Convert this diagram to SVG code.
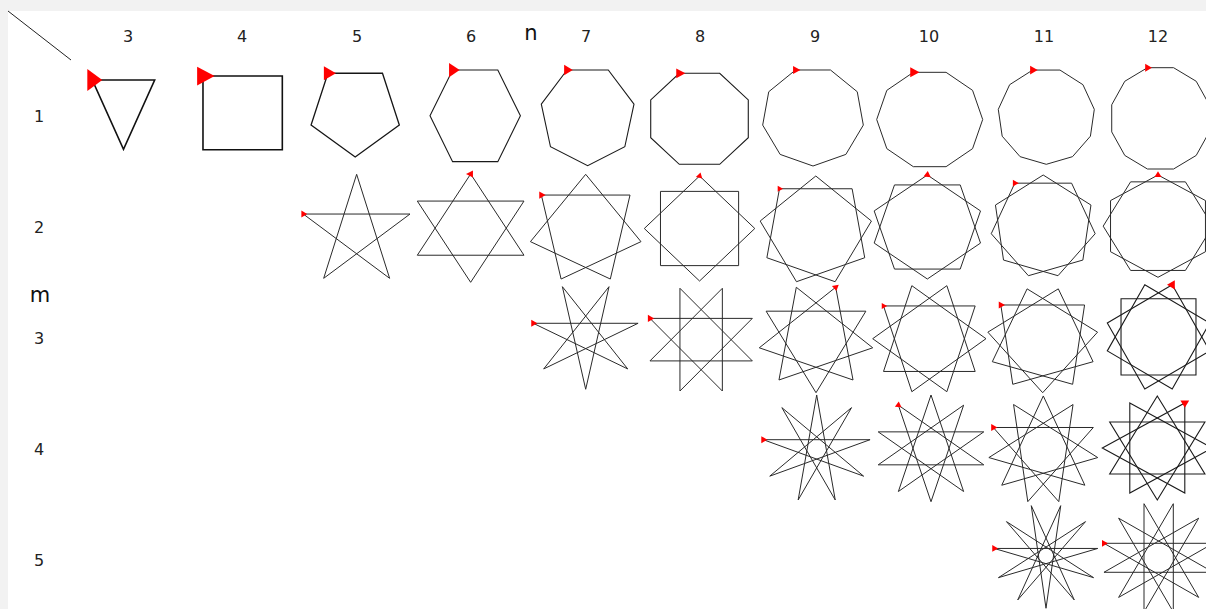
<svg xmlns="http://www.w3.org/2000/svg" xmlns:xlink="http://www.w3.org/1999/xlink" width="1206" height="609" viewBox="0 0 1206 609">
<style>
.ln{fill:none;stroke:#2a2a2a;stroke-width:1;vector-effect:non-scaling-stroke;stroke-linejoin:miter}
.b1{stroke:#111;stroke-width:1.6}
.b2{stroke:#151515;stroke-width:1.3}
.b3{stroke:#1a1a1a;stroke-width:1.1}
.lab{font-family:"DejaVu Sans",sans-serif;font-size:16px;fill:#222;text-anchor:middle}
.big{font-family:"DejaVu Sans",sans-serif;font-size:21px;fill:#111;text-anchor:middle}
</style>
<defs>
<polygon id="t" points="0.577,0 -0.289,-0.5 -0.289,0.5" fill="#ff0000"/>
</defs>
<rect x="0" y="0" width="1206" height="609" fill="#f2f2f2"/>
<rect x="8" y="11" width="1198" height="598" fill="#ffffff"/>
<g id="header">
<line x1="8" y1="11" x2="71" y2="60" stroke="#222" stroke-width="1"/>
<text class="lab" x="128" y="42">3</text>
<text class="lab" x="242" y="42">4</text>
<text class="lab" x="357" y="42">5</text>
<text class="lab" x="471" y="42">6</text>
<text class="lab" x="586" y="42">7</text>
<text class="lab" x="700" y="42">8</text>
<text class="lab" x="815" y="42">9</text>
<text class="lab" x="929" y="42">10</text>
<text class="lab" x="1044" y="42">11</text>
<text class="lab" x="1158" y="42">12</text>
<text class="big" x="531" y="40">n</text>
<text class="lab" x="39" y="122">1</text>
<text class="lab" x="39" y="233">2</text>
<text class="lab" x="39" y="344">3</text>
<text class="lab" x="39" y="455">4</text>
<text class="lab" x="39" y="566">5</text>
<text class="big" x="40" y="302">m</text>
</g>
<g id="connectors"></g>

<!-- row 1 -->
<g id="p3-1" transform="translate(123.5,103.1) scale(36,46.2)">
<polygon class="ln b1" points="-0.866,-0.5 0.866,-0.5 0,1"/>
<use xlink:href="#t" href="#t" transform="translate(-0.866,-0.5) scale(0.48)"/>
</g>
<g id="p4-1" transform="translate(242.65,112.85) scale(56.1,52.1)">
<polygon class="ln b1" points="-0.7071,-0.7071 0.7071,-0.7071 0.7071,0.7071 -0.7071,0.7071"/>
<use xlink:href="#t" href="#t" transform="translate(-0.7071,-0.7071) scale(0.36)"/>
</g>
<g id="p5-1" transform="translate(355.2,110.7) scale(46.4,46.3)">
<polygon class="ln b2" points="-0.5878,-0.809 0.5878,-0.809 0.9511,0.309 0,1 -0.9511,0.309"/>
<use xlink:href="#t" href="#t" transform="translate(-0.5878,-0.809) scale(0.3)"/>
</g>
<g id="p6-1" transform="translate(475.2,115.85) scale(45.2,52.9)">
<polygon class="ln b3" points="-0.5,-0.866 0.5,-0.866 1,0 0.5,0.866 -0.5,0.866 -1,0"/>
<use xlink:href="#t" href="#t" transform="translate(-0.5,-0.866) scale(0.27)"/>
</g>
<g id="p7-1" transform="translate(587.65,115.36) scale(47.54,50.34)">
<polygon class="ln b3" points="-0.4339,-0.901 0.4339,-0.901 0.9749,-0.2225 0.7818,0.6235 0,1 -0.7818,0.6235 -0.9749,-0.2225"/>
<use xlink:href="#t" href="#t" transform="translate(-0.4339,-0.901) scale(0.21)"/>
</g>
<g id="p8-1" transform="translate(699.5,118.8) scale(52.8,49.24)">
<polygon class="ln b3" points="-0.3827,-0.9239 0.3827,-0.9239 0.9239,-0.3827 0.9239,0.3827 0.3827,0.9239 -0.3827,0.9239 -0.9239,0.3827 -0.9239,-0.3827"/>
<use xlink:href="#t" href="#t" transform="translate(-0.3827,-0.9239) scale(0.2)"/>
</g>
<g id="p9-1" transform="translate(813,116.5) scale(51.1,49.5)">
<polygon class="ln" points="-0.342,-0.9397 0.342,-0.9397 0.866,-0.5 0.9848,0.1736 0.6428,0.766 0,1 -0.6428,0.766 -0.9848,0.1736 -0.866,-0.5"/>
<use xlink:href="#t" href="#t" transform="translate(-0.342,-0.9397) scale(0.165)"/>
</g>
<g id="p10-1" transform="translate(929.7,119.5) scale(53,49.6)">
<polygon class="ln" points="-0.309,-0.9511 0.309,-0.9511 0.809,-0.5878 1,0 0.809,0.5878 0.309,0.9511 -0.309,0.9511 -0.809,0.5878 -1,0 -0.809,-0.5878"/>
<use xlink:href="#t" href="#t" transform="translate(-0.309,-0.9511) scale(0.2)"/>
</g>
<g id="p11-1" transform="translate(1046.3,116.2) scale(48.5,48.1)">
<polygon class="ln" points="-0.2817,-0.9595 0.2817,-0.9595 0.7557,-0.6549 0.9898,-0.1423 0.9096,0.4154 0.5406,0.8413 0,1 -0.5406,0.8413 -0.9096,0.4154 -0.9898,-0.1423 -0.7557,-0.6549"/>
<use xlink:href="#t" href="#t" transform="translate(-0.2817,-0.9595) scale(0.18)"/>
</g>
<g id="p12-1" transform="translate(1160.5,118.35) scale(50.5,52.44)">
<polygon class="ln" points="-0.2588,-0.9659 0.2588,-0.9659 0.7071,-0.7071 0.9659,-0.2588 0.9659,0.2588 0.7071,0.7071 0.2588,0.9659 -0.2588,0.9659 -0.7071,0.7071 -0.9659,0.2588 -0.9659,-0.2588 -0.7071,-0.7071"/>
<use xlink:href="#t" href="#t" transform="translate(-0.2588,-0.9659) scale(0.155)"/>
</g>

<!-- row 2 -->
<g id="p5-2" transform="translate(356.65,231.8) scale(56.1,57.5)">
<polygon class="ln" points="-0.9511,-0.309 0.9511,-0.309 -0.5878,0.809 0,-1 0.5878,0.809"/>
<use xlink:href="#t" href="#t" transform="translate(-0.9511,-0.309) scale(0.12)"/>
</g>
<g id="p6-2" transform="translate(470.65,228.15) scale(61.6,54.15)">
<polygon class="ln" points="-0.866,-0.5 0.866,-0.5 0,1"/>
<polygon class="ln" points="0,-1 0.866,0.5 -0.866,0.5"/>
<use xlink:href="#t" href="#t" transform="translate(0,-1) rotate(60) scale(0.13)"/>
</g>
<g id="p7-2" transform="translate(585.7,229.4) scale(56.7,55.08)">
<polygon class="ln" points="-0.7818,-0.6235 0.7818,-0.6235 0.4339,0.901 -0.9749,0.2225 0,-1 0.9749,0.2225 -0.4339,0.901"/>
<use xlink:href="#t" href="#t" transform="translate(-0.7818,-0.6235) scale(0.13)"/>
</g>
<g id="p8-2" transform="translate(699.55,228.5) scale(55.25,52.5)">
<polygon class="ln" points="-0.7071,-0.7071 0.7071,-0.7071 0.7071,0.7071 -0.7071,0.7071"/>
<polygon class="ln" points="0,-1 1,0 0,1 -1,0"/>
<use xlink:href="#t" href="#t" transform="translate(0,-1) rotate(45) scale(0.12)"/>
</g>
<g id="p9-2" transform="translate(815.8,230.5) scale(56.5,54.5)">
<polygon class="ln" points="-0.6428,-0.766 0.6428,-0.766 0.866,0.5 -0.342,0.9397 -0.9848,-0.1736 0,-1 0.9848,-0.1736 0.342,0.9397 -0.866,0.5"/>
<use xlink:href="#t" href="#t" transform="translate(-0.6428,-0.766) scale(0.11)"/>
</g>
<g id="p10-2" transform="translate(927.35,227) scale(55.9,52)">
<polygon class="ln" points="-0.5878,-0.809 0.5878,-0.809 0.9511,0.309 0,1 -0.9511,0.309"/>
<polygon class="ln" points="0,-1 0.9511,-0.309 0.5878,0.809 -0.5878,0.809 -0.9511,-0.309"/>
<use xlink:href="#t" href="#t" transform="translate(0,-1) rotate(36) scale(0.13)"/>
</g>
<g id="p11-2" transform="translate(1043.2,226.4) scale(52.5,51.4)">
<polygon class="ln" points="-0.5406,-0.8413 0.5406,-0.8413 0.9898,0.1423 0.2817,0.9595 -0.7557,0.6549 -0.9096,-0.4154 0,-1 0.9096,-0.4154 0.7557,0.6549 -0.2817,0.9595 -0.9898,0.1423"/>
<use xlink:href="#t" href="#t" transform="translate(-0.5406,-0.8413) scale(0.13)"/>
</g>
<g id="p12-2" transform="translate(1158,226.15) scale(54.8,51.15)">
<polygon class="ln" points="-0.5,-0.866 0.5,-0.866 1,0 0.5,0.866 -0.5,0.866 -1,0"/>
<polygon class="ln" points="0,-1 0.866,-0.5 0.866,0.5 0,1 -0.866,0.5 -0.866,-0.5"/>
<use xlink:href="#t" href="#t" transform="translate(0,-1) rotate(30) scale(0.13)"/>
</g>

<!-- row 3 -->
<g id="p7-3" transform="translate(585.7,335.3) scale(53.75,53.97)">
<polygon class="ln" points="-0.9749,-0.2225 0.9749,-0.2225 -0.7818,0.6235 0.4339,-0.901 0,1 -0.4339,-0.901 0.7818,0.6235"/>
<use xlink:href="#t" href="#t" transform="translate(-0.9749,-0.2225) scale(0.13)"/>
</g>
<g id="p8-3" transform="translate(701.15,339.65) scale(55.4,55.58)">
<polygon class="ln" points="-0.9239,-0.3827 0.9239,-0.3827 -0.3827,0.9239 -0.3827,-0.9239 0.9239,0.3827 -0.9239,0.3827 0.3827,-0.9239 0.3827,0.9239"/>
<use xlink:href="#t" href="#t" transform="translate(-0.9239,-0.3827) scale(0.13)"/>
</g>
<g id="p9-3" transform="translate(816,338.35) scale(57.6,54.35)">
<polygon class="ln" points="-0.866,-0.5 0.866,-0.5 0,1"/>
<polygon class="ln" points="-0.342,-0.9397 0.9848,0.1736 -0.6428,0.766"/>
<polygon class="ln" points="0.342,-0.9397 0.6428,0.766 -0.9848,0.1736"/>
<use xlink:href="#t" href="#t" transform="translate(0.342,-0.9397) rotate(80) scale(0.12)"/>
</g>
<g id="p10-3" transform="translate(929.35,338.7) scale(56.65,55.73)">
<polygon class="ln" points="-0.809,-0.5878 0.809,-0.5878 0.309,0.9511 -1,0 0.309,-0.9511 0.809,0.5878 -0.809,0.5878 -0.309,-0.9511 1,0 -0.309,0.9511"/>
<use xlink:href="#t" href="#t" transform="translate(-0.809,-0.5878) scale(0.11)"/>
</g>
<g id="p11-3" transform="translate(1042.7,339.7) scale(55.4,53)">
<polygon class="ln" points="-0.7557,-0.6549 0.7557,-0.6549 0.5406,0.8413 -0.9096,0.4154 -0.2817,-0.9595 0.9898,-0.1423 0,1 -0.9898,-0.1423 0.2817,-0.9595 0.9096,0.4154 -0.5406,0.8413"/>
<use xlink:href="#t" href="#t" transform="translate(-0.7557,-0.6549) scale(0.13)"/>
</g>
<g id="p12-3" transform="translate(1158.5,336.9) scale(53,53.94)">
<polygon class="ln b3" points="-0.7071,-0.7071 0.7071,-0.7071 0.7071,0.7071 -0.7071,0.7071"/>
<polygon class="ln b3" points="-0.2588,-0.9659 0.9659,-0.2588 0.2588,0.9659 -0.9659,0.2588"/>
<polygon class="ln b3" points="0.2588,-0.9659 0.9659,0.2588 -0.2588,0.9659 -0.9659,-0.2588"/>
<use xlink:href="#t" href="#t" transform="translate(0.2588,-0.9659) rotate(60) scale(0.17)"/>
</g>

<!-- row 4 -->
<g id="p9-4" transform="translate(816.7,449.1) scale(54.2,54.13)">
<polygon class="ln" points="-0.9848,-0.1736 0.9848,-0.1736 -0.866,0.5 0.6428,-0.766 -0.342,0.9397 0,-1 0.342,0.9397 -0.6428,-0.766 0.866,0.5"/>
<use xlink:href="#t" href="#t" transform="translate(-0.9848,-0.1736) scale(0.13)"/>
</g>
<g id="p10-4" transform="translate(931,448.35) scale(55.5,53.35)">
<polygon class="ln" points="-0.9511,-0.309 0.9511,-0.309 -0.5878,0.809 0,-1 0.5878,0.809"/>
<polygon class="ln" points="-0.5878,-0.809 0.9511,0.309 -0.9511,0.309 0.5878,-0.809 0,1"/>
<use xlink:href="#t" href="#t" transform="translate(-0.5878,-0.809) rotate(36) scale(0.12)"/>
</g>
<g id="p11-4" transform="translate(1043.3,449.9) scale(55,53.94)">
<polygon class="ln" points="-0.9096,-0.4154 0.9096,-0.4154 -0.2817,0.9595 -0.5406,-0.8413 0.9898,0.1423 -0.7557,0.6549 0,-1 0.7557,0.6549 -0.9898,0.1423 0.5406,-0.8413 0.2817,0.9595"/>
<use xlink:href="#t" href="#t" transform="translate(-0.9096,-0.4154) scale(0.13)"/>
</g>
<g id="p12-4" transform="translate(1157.3,448) scale(55,52)">
<polygon class="ln b3" points="-0.866,-0.5 0.866,-0.5 0,1"/>
<polygon class="ln b3" points="-0.5,-0.866 1,0 -0.5,0.866"/>
<polygon class="ln b3" points="0,-1 0.866,0.5 -0.866,0.5"/>
<polygon class="ln b3" points="0.5,-0.866 0.5,0.866 -1,0"/>
<use xlink:href="#t" href="#t" transform="translate(0.5,-0.866) rotate(90) scale(0.16)"/>
</g>

<!-- row 5 -->
<g id="p11-5" transform="translate(1046,555.9) scale(52.3,52.36)">
<polygon class="ln" points="-0.9898,-0.1423 0.9898,-0.1423 -0.9096,0.4154 0.7557,-0.6549 -0.5406,0.8413 0.2817,-0.9595 0,1 -0.2817,-0.9595 0.5406,0.8413 -0.7557,-0.6549 0.9096,0.4154"/>
<use xlink:href="#t" href="#t" transform="translate(-0.9898,-0.1423) scale(0.13)"/>
</g>
<g id="p12-5" transform="translate(1158.65,557.8) scale(56.6,56)">
<polygon class="ln" points="-0.9659,-0.2588 0.9659,-0.2588 -0.7071,0.7071 0.2588,-0.9659 0.2588,0.9659 -0.7071,-0.7071 0.9659,0.2588 -0.9659,0.2588 0.7071,-0.7071 -0.2588,0.9659 -0.2588,-0.9659 0.7071,0.7071"/>
<use xlink:href="#t" href="#t" transform="translate(-0.9659,-0.2588) scale(0.12)"/>
</g>
</svg>
